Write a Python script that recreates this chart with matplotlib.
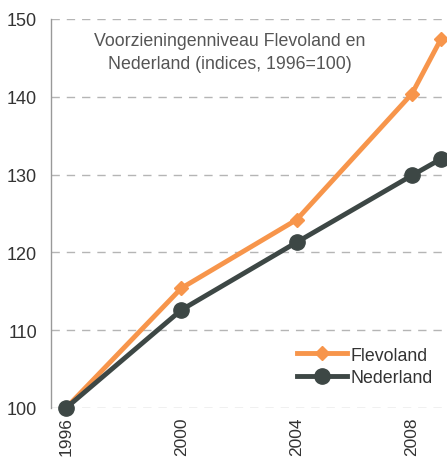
import matplotlib
matplotlib.use("Agg")
import matplotlib.pyplot as plt

years = [1996, 2000, 2004, 2008, 2009]
flevoland = [100, 115.4, 124.2, 140.4, 147.4]
nederland = [100, 112.6, 121.3, 129.9, 132.0]
xtick_years = [1996, 2000, 2004, 2008]
yticks = [100, 110, 120, 130, 140, 150]
title = "Voorzieningenniveau Flevoland en\nNederland (indices, 1996=100)"

plt.rcParams['font.family'] = ['Liberation Sans', 'DejaVu Sans']

W, H = 447, 460
fig = plt.figure(figsize=(W/100, H/100), dpi=100)
left_px, right_px = 51, 460
top_px, bot_px = 20, 409
ax = fig.add_axes([left_px/W, (H-bot_px)/H, (right_px-left_px)/W, (bot_px-top_px)/H])

orange = '#F7954B'
dark = '#3D4745'

ax.plot(years, flevoland, color=orange, lw=3.5, marker='D', ms=7, mec=orange, mfc=orange,
        label='Flevoland', zorder=3, clip_on=False)
ax.plot(years, nederland, color=dark, lw=3.5, marker='o', ms=11, mec=dark, mfc=dark,
        label='Nederland', zorder=4, clip_on=False)

px_per_year = (412 - 66) / 12
x0 = 1996 - (66 - left_px) / px_per_year
x1 = 1996 + (right_px - 66) / px_per_year
ax.set_xlim(x0, x1)
ax.set_ylim(100, 150)
ax.set_yticks(yticks)
ax.set_xticks(xtick_years)
ax.set_xticklabels([str(y) for y in xtick_years], rotation=90, fontsize=12.5, color='#333333')
ax.tick_params(axis='y', labelsize=13, labelcolor='#333333', length=0, pad=10)
ax.tick_params(axis='x', length=0, pad=6)

for s in ['top', 'right', 'bottom']:
    ax.spines[s].set_visible(False)
ax.spines['left'].set_color('#999999')
ax.spines['left'].set_linewidth(1)

ax.yaxis.grid(True, linestyle=(0, (6, 5)), color='#b5b5b5', lw=1)
ax.set_axisbelow(True)

ax.text(230/W, (H-53)/H, title, transform=fig.transFigure, ha='center', va='center',
        fontsize=12.8, color='#555555', linespacing=1.45)

leg = ax.legend(loc='lower left', bbox_to_anchor=((290-left_px)/(right_px-left_px), (409-394)/(bot_px-top_px)),
                frameon=False, fontsize=12.8, handlelength=2.8, handletextpad=0.2, labelspacing=0.3,
                borderaxespad=0)
for t in leg.get_texts():
    t.set_color('#333333')

fig.savefig('out.png', dpi=100)
